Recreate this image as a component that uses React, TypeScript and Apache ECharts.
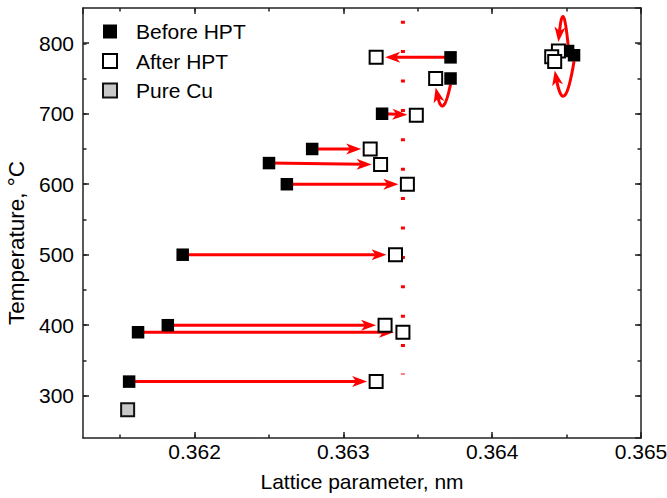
import React, { useEffect, useRef } from "react";
import * as echarts from "echarts";

// ---- Data ----
const beforeX = [0.36372, 0.36372, 0.36326, 0.36279, 0.3625, 0.36262, 0.36192, 0.36182, 0.36162, 0.36156, 0.36451, 0.36455];
const beforeY = [780, 750, 700, 650, 630, 600, 500, 400, 390, 320, 789, 783];
const afterX = [0.36322, 0.36362, 0.36349, 0.36318, 0.36325, 0.36343, 0.36335, 0.36328, 0.3634, 0.36322, 0.364445, 0.3644, 0.36442];
const afterY = [780, 750, 698, 650, 628, 600, 500, 400, 390, 320, 789, 781, 774];
const pureCuX = [0.36155];
const pureCuY = [280];
// arrows: before index -> after index
const arrowFrom = [0, 1, 2, 3, 4, 5, 6, 7, 8, 9, 10, 11];
const arrowTo = [0, 1, 2, 3, 4, 5, 6, 7, 8, 9, 10, 12];
// reference (dotted) lattice parameter line
const refLatticeX = [0.3634, 0.3634];
const refLatticeY = [832, 330];

const seriesNames = ["Before HPT", "After HPT", "Pure Cu"];

// ---- style constants ----
const FONT = "'Liberation Sans', Arial, Helvetica, sans-serif";
const RED = "#ff0000";
const AXIS_COLOR = "#222";
// curved arrows: arrow index -> bulge in px (+ down, - up)
const curveBulge: Record<number, number> = { 1: 17, 10: -24, 11: 27 };

export default function App() {
  const ref = useRef<HTMLDivElement>(null);

  useEffect(() => {
    if (!ref.current) return;
    const chart = echarts.init(ref.current, undefined, { renderer: "svg" });

    const beforeData = beforeX.map((x, i) => [x, beforeY[i]]);
    const afterData = afterX.map((x, i) => [x, afterY[i]]);
    const cuData = pureCuX.map((x, i) => [x, pureCuY[i]]);
    const arrowData = arrowFrom.map((b, i) => [beforeX[b], beforeY[b], afterX[arrowTo[i]], afterY[arrowTo[i]]]);
    const refData = refLatticeX.map((x, i) => [x, refLatticeY[i]]);

    const headLen = 15;
    const headW = 5.5;
    const notch = 10;

    const renderArrow = (params: any, api: any) => {
      const p1 = api.coord([api.value(0), api.value(1)]);
      const p2 = api.coord([api.value(2), api.value(3)]);
      const bulge = curveBulge[params.dataIndex] || 0;
      let start: number[];
      let tip: number[];
      let dir: number[];
      let ctrl: number[] | null = null;
      if (bulge === 0) {
        const dx = p2[0] - p1[0];
        const dy = p2[1] - p1[1];
        const len = Math.sqrt(dx * dx + dy * dy) || 1;
        dir = [dx / len, dy / len];
        start = p1;
        tip = [p2[0] - dir[0] * 9, p2[1] - dir[1] * 9];
      } else {
        const s = bulge > 0 ? 1 : -1;
        start = [p1[0], p1[1] + s * 6];
        tip = [p2[0], p2[1] + s * 9];
        ctrl = [(start[0] + tip[0]) / 2, (start[1] + tip[1]) / 2 + bulge * 2];
        const dx = tip[0] - ctrl[0];
        const dy = tip[1] - ctrl[1];
        const len = Math.sqrt(dx * dx + dy * dy) || 1;
        dir = [dx / len, dy / len];
      }
      const n = [-dir[1], dir[0]];
      const lineEnd = [tip[0] - dir[0] * notch, tip[1] - dir[1] * notch];
      const head = [
        tip,
        [tip[0] - dir[0] * headLen + n[0] * headW, tip[1] - dir[1] * headLen + n[1] * headW],
        [tip[0] - dir[0] * (notch + 1), tip[1] - dir[1] * (notch + 1)],
        [tip[0] - dir[0] * headLen - n[0] * headW, tip[1] - dir[1] * headLen - n[1] * headW],
      ];
      const lineEl = ctrl
        ? {
            type: "bezierCurve",
            shape: { x1: start[0], y1: start[1], x2: lineEnd[0], y2: lineEnd[1], cpx1: ctrl[0], cpy1: ctrl[1] },
            style: { stroke: RED, lineWidth: 3, fill: null },
          }
        : {
            type: "line",
            shape: { x1: start[0], y1: start[1], x2: lineEnd[0], y2: lineEnd[1] },
            style: { stroke: RED, lineWidth: 3 },
          };
      return {
        type: "group",
        children: [lineEl, { type: "polygon", shape: { points: head }, style: { fill: RED } }],
      };
    };

    const tickStyle = { color: AXIS_COLOR, width: 1.5 };
    const labelStyle = { fontSize: 21, color: "#000", fontFamily: FONT };

    const option: any = {
      animation: false,
      textStyle: { fontFamily: FONT },
      grid: [
        { left: 83, right: 26, top: 8, bottom: 60, outerBoundsMode: "none", containLabel: false },
        { left: 120.2, right: 26, top: 8, bottom: 60, outerBoundsMode: "none", containLabel: false },
        { left: 83, right: 26, top: 43.25, bottom: 102.3, outerBoundsMode: "none", containLabel: false },
      ],
      legend: {
        data: seriesNames,
        orient: "vertical",
        left: 97,
        top: 16,
        itemWidth: 14,
        itemHeight: 14,
        itemGap: 8.5,
        textStyle: { fontSize: 21, color: "#000", fontFamily: FONT, padding: [0, 0, 0, 14] },
        selectedMode: false,
      },
      xAxis: [
        {
          type: "value",
          gridIndex: 0,
          position: "bottom",
          min: 0.36125,
          max: 0.365,
          axisLine: { show: true, onZero: false, lineStyle: tickStyle },
          axisTick: { show: true, inside: true, length: 6, lineStyle: tickStyle },
          axisLabel: { ...labelStyle, showMinLabel: false, margin: 3 },
          splitLine: { show: false },
          name: "Lattice parameter, nm",
          nameLocation: "middle",
          nameGap: 33,
          nameTextStyle: { ...labelStyle },
        },
        {
          type: "value",
          gridIndex: 0,
          position: "top",
          min: 0.36125,
          max: 0.365,
          axisLine: { show: true, onZero: false, lineStyle: tickStyle },
          axisTick: { show: true, inside: true, length: 6, lineStyle: tickStyle },
          axisLabel: { show: false },
          splitLine: { show: false },
        },
        {
          type: "value",
          gridIndex: 1,
          position: "bottom",
          min: 0.3615,
          max: 0.365,
          interval: 0.0005,
          axisLine: { show: false },
          axisTick: { show: true, inside: true, length: 3.5, lineStyle: tickStyle },
          axisLabel: { show: false },
          splitLine: { show: false },
        },
        {
          type: "value",
          gridIndex: 1,
          position: "top",
          min: 0.3615,
          max: 0.365,
          interval: 0.0005,
          axisLine: { show: false },
          axisTick: { show: true, inside: true, length: 3.5, lineStyle: tickStyle },
          axisLabel: { show: false },
          splitLine: { show: false },
        },
        { type: "value", gridIndex: 2, show: false, min: 0, max: 1 },
      ],
      yAxis: [
        {
          type: "value",
          gridIndex: 0,
          position: "left",
          min: 240,
          max: 850,
          axisLine: { show: true, onZero: false, lineStyle: tickStyle },
          axisTick: { show: true, inside: true, length: 6, lineStyle: tickStyle },
          axisLabel: { ...labelStyle, showMinLabel: false, showMaxLabel: false, margin: 9 },
          splitLine: { show: false },
          name: "Temperature, °C",
          nameLocation: "middle",
          nameGap: 54,
          nameTextStyle: { ...labelStyle, fontSize: 22.5, padding: [0, 40, 0, 0] },
        },
        {
          type: "value",
          gridIndex: 0,
          position: "right",
          min: 240,
          max: 850,
          axisLine: { show: true, onZero: false, lineStyle: tickStyle },
          axisTick: { show: true, inside: true, length: 6, lineStyle: tickStyle },
          axisLabel: { show: false },
          splitLine: { show: false },
        },
        { type: "value", gridIndex: 1, show: false, min: 0, max: 1 },
        {
          type: "value",
          gridIndex: 2,
          position: "left",
          min: 300,
          max: 800,
          interval: 50,
          axisLine: { show: false },
          axisTick: { show: true, inside: true, length: 3.5, lineStyle: tickStyle },
          axisLabel: { show: false },
          splitLine: { show: false },
        },
        {
          type: "value",
          gridIndex: 2,
          position: "right",
          min: 300,
          max: 800,
          interval: 50,
          axisLine: { show: false },
          axisTick: { show: true, inside: true, length: 3.5, lineStyle: tickStyle },
          axisLabel: { show: false },
          splitLine: { show: false },
        },
      ],
      series: [
        {
          type: "line",
          name: "ref",
          xAxisIndex: 0,
          yAxisIndex: 0,
          data: refData,
          symbol: "none",
          silent: true,
          z: 1,
          lineStyle: { color: RED, width: 4, type: [3, 26.4] },
        },
        {
          type: "custom",
          name: "arrows",
          xAxisIndex: 0,
          yAxisIndex: 0,
          data: arrowData,
          encode: { x: [0, 2], y: [1, 3] },
          renderItem: renderArrow,
          silent: true,
          z: 2,
        },
        {
          type: "scatter",
          name: seriesNames[0],
          xAxisIndex: 0,
          yAxisIndex: 0,
          data: beforeData,
          symbol: "rect",
          symbolSize: 12.5,
          itemStyle: { color: "#000", borderColor: "#000", borderWidth: 0, opacity: 1 },
          z: 3,
        },
        {
          type: "scatter",
          name: seriesNames[1],
          xAxisIndex: 0,
          yAxisIndex: 0,
          data: afterData,
          symbol: "rect",
          symbolSize: 13,
          itemStyle: { color: "#fff", borderColor: "#000", borderWidth: 2, opacity: 1 },
          z: 4,
        },
        {
          type: "scatter",
          name: seriesNames[2],
          xAxisIndex: 0,
          yAxisIndex: 0,
          data: cuData,
          symbol: "rect",
          symbolSize: 13,
          itemStyle: { color: "#c8c8c8", borderColor: "#111", borderWidth: 2, opacity: 1 },
          z: 4,
        },
      ],
    };

    chart.setOption(option);
    return () => chart.dispose();
  }, []);

  return (
    <div
      ref={ref}
      style={{ position: "absolute", left: 0, top: 0, width: 667, height: 498, background: "#fff" }}
    />
  );
}
